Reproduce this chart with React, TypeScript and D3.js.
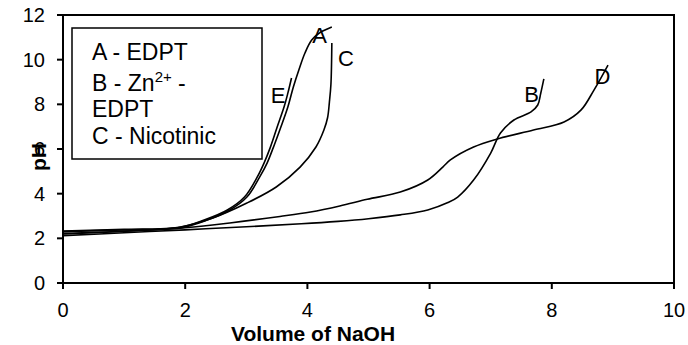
import { useEffect, useRef } from "react";
import * as d3 from "d3";

// volume of NaOH vs pH
const curveA: [number, number][] = [
  [0, 2.3], [1, 2.38], [1.92, 2.47], [2.36, 2.82], [2.73, 3.27], [3.01, 3.85],
  [3.22, 4.75], [3.34, 5.37], [3.44, 6.05], [3.56, 6.94], [3.68, 7.88], [3.77, 8.78],
  [3.86, 9.54], [3.96, 10.3], [4.07, 10.88], [4.2, 11.2], [4.4, 11.46],
];
const curveE: [number, number][] = [
  [0, 2.33], [1, 2.4], [1.92, 2.5], [2.31, 2.82], [2.69, 3.27], [2.97, 3.85],
  [3.18, 4.75], [3.29, 5.37], [3.39, 6.05], [3.5, 6.94], [3.62, 7.9], [3.68, 8.5],
  [3.74, 9.18],
];
const curveC: [number, number][] = [
  [0, 2.2], [1, 2.32], [1.92, 2.51], [2.45, 2.91], [3.01, 3.58], [3.49, 4.3],
  [3.88, 5.19], [4.14, 6.09], [4.27, 6.85], [4.33, 7.4], [4.36, 8.1], [4.385, 8.9],
  [4.4, 10.75],
];
const curveB: [number, number][] = [
  [0, 2.12], [1, 2.25], [2, 2.38], [3, 2.52], [3.9, 2.65], [4.5, 2.76], [5, 2.88],
  [5.52, 3.05], [5.97, 3.27], [6.3, 3.6], [6.46, 3.85], [6.72, 4.61], [7, 5.82],
  [7.16, 6.72], [7.38, 7.3], [7.66, 7.66], [7.77, 7.97], [7.82, 8.51], [7.87, 9.14],
];
const curveD: [number, number][] = [
  [0, 2.22], [1, 2.32], [2, 2.48], [2.73, 2.69], [3.55, 2.98], [4.05, 3.18],
  [4.53, 3.45], [4.98, 3.75], [5.52, 4.07], [5.97, 4.61], [6.22, 5.2], [6.34, 5.51],
  [6.72, 6.09], [7.11, 6.45], [7.7, 6.85], [8.2, 7.21], [8.48, 7.75], [8.69, 8.64],
  [8.92, 9.76],
];

const curves = [curveA, curveE, curveC, curveB, curveD];

// curve letters placed next to the curve ends
const curveLabels = [
  { text: "A", x: 4.08, y: 10.75 },
  { text: "C", x: 4.5, y: 9.7 },
  { text: "E", x: 3.4, y: 8.05 },
  { text: "B", x: 7.55, y: 8.1 },
  { text: "D", x: 8.7, y: 8.9 },
];

const xTicks = [0, 2, 4, 6, 8, 10];
const yTicks = [0, 2, 4, 6, 8, 10, 12];

const FONT = "'Liberation Sans', Arial, sans-serif";

export default function App() {
  const svgRef = useRef<SVGSVGElement>(null);

  useEffect(() => {
    const width = 688;
    const height = 345;
    const svg = d3.select(svgRef.current);
    svg.selectAll("*").remove();

    const x = d3.scaleLinear().domain([0, 10]).range([63, 674]);
    const y = d3.scaleLinear().domain([0, 12]).range([283, 15]);

    svg.attr("width", width).attr("height", height);

    // frame
    svg
      .append("rect")
      .attr("x", x(0))
      .attr("y", y(12))
      .attr("width", x(10) - x(0))
      .attr("height", y(0) - y(12))
      .attr("fill", "none")
      .attr("stroke", "#000")
      .attr("stroke-width", 2);

    // y ticks
    const gy = svg.append("g");
    gy.selectAll("line")
      .data(yTicks)
      .join("line")
      .attr("x1", x(0) - 6)
      .attr("x2", x(0))
      .attr("y1", (d) => y(d))
      .attr("y2", (d) => y(d))
      .attr("stroke", "#000")
      .attr("stroke-width", 2);
    gy.selectAll("text")
      .data(yTicks)
      .join("text")
      .attr("x", 45)
      .attr("y", (d) => y(d) + 7)
      .attr("text-anchor", "end")
      .attr("font-family", FONT)
      .attr("font-size", 20)
      .text((d) => d);

    // x ticks
    const gx = svg.append("g");
    gx.selectAll("line")
      .data(xTicks)
      .join("line")
      .attr("x1", (d) => x(d))
      .attr("x2", (d) => x(d))
      .attr("y1", y(0))
      .attr("y2", y(0) + 6)
      .attr("stroke", "#000")
      .attr("stroke-width", 2);
    gx.selectAll("text")
      .data(xTicks)
      .join("text")
      .attr("x", (d) => x(d))
      .attr("y", 317)
      .attr("text-anchor", "middle")
      .attr("font-family", FONT)
      .attr("font-size", 20)
      .text((d) => d);

    // axis titles
    svg
      .append("text")
      .attr("x", 313)
      .attr("y", 341)
      .attr("text-anchor", "middle")
      .attr("font-family", FONT)
      .attr("font-weight", "bold")
      .attr("font-size", 21)
      .text("Volume of NaOH");
    svg
      .append("text")
      .attr("transform", "translate(46,157) rotate(-90)")
      .attr("text-anchor", "middle")
      .attr("font-family", FONT)
      .attr("font-weight", "bold")
      .attr("font-size", 21)
      .text("pH");

    // curves
    const line = d3
      .line<[number, number]>()
      .x((d) => x(d[0]))
      .y((d) => y(d[1]))
      .curve(d3.curveCatmullRom.alpha(0.5));
    svg
      .append("g")
      .selectAll("path")
      .data(curves)
      .join("path")
      .attr("d", (d) => line(d))
      .attr("fill", "none")
      .attr("stroke", "#000")
      .attr("stroke-width", 1.6);

    svg
      .append("g")
      .selectAll("text")
      .data(curveLabels)
      .join("text")
      .attr("x", (d) => x(d.x))
      .attr("y", (d) => y(d.y))
      .attr("font-family", FONT)
      .attr("font-size", 22)
      .text((d) => d.text);

    // legend box
    const lg = svg.append("g");
    lg.append("rect")
      .attr("x", 72)
      .attr("y", 28)
      .attr("width", 190)
      .attr("height", 131)
      .attr("fill", "#fff")
      .attr("stroke", "#000")
      .attr("stroke-width", 1.5);
    const t = lg
      .append("text")
      .attr("font-family", FONT)
      .attr("font-size", 23);
    t.append("tspan").attr("x", 92).attr("y", 60).text("A - EDPT");
    t.append("tspan").attr("x", 92).attr("y", 91).text("B - Zn");
    t.append("tspan").attr("font-size", 15).attr("dy", -9).text("2+");
    t.append("tspan").attr("dy", 9).text(" -");
    t.append("tspan").attr("x", 92).attr("y", 117).text("EDPT");
    t.append("tspan").attr("x", 92).attr("y", 144).text("C - Nicotinic");
  }, []);

  return (
    <svg
      ref={svgRef}
      style={{ position: "absolute", left: 0, top: 0, background: "#fff" }}
    ></svg>
  );
}
